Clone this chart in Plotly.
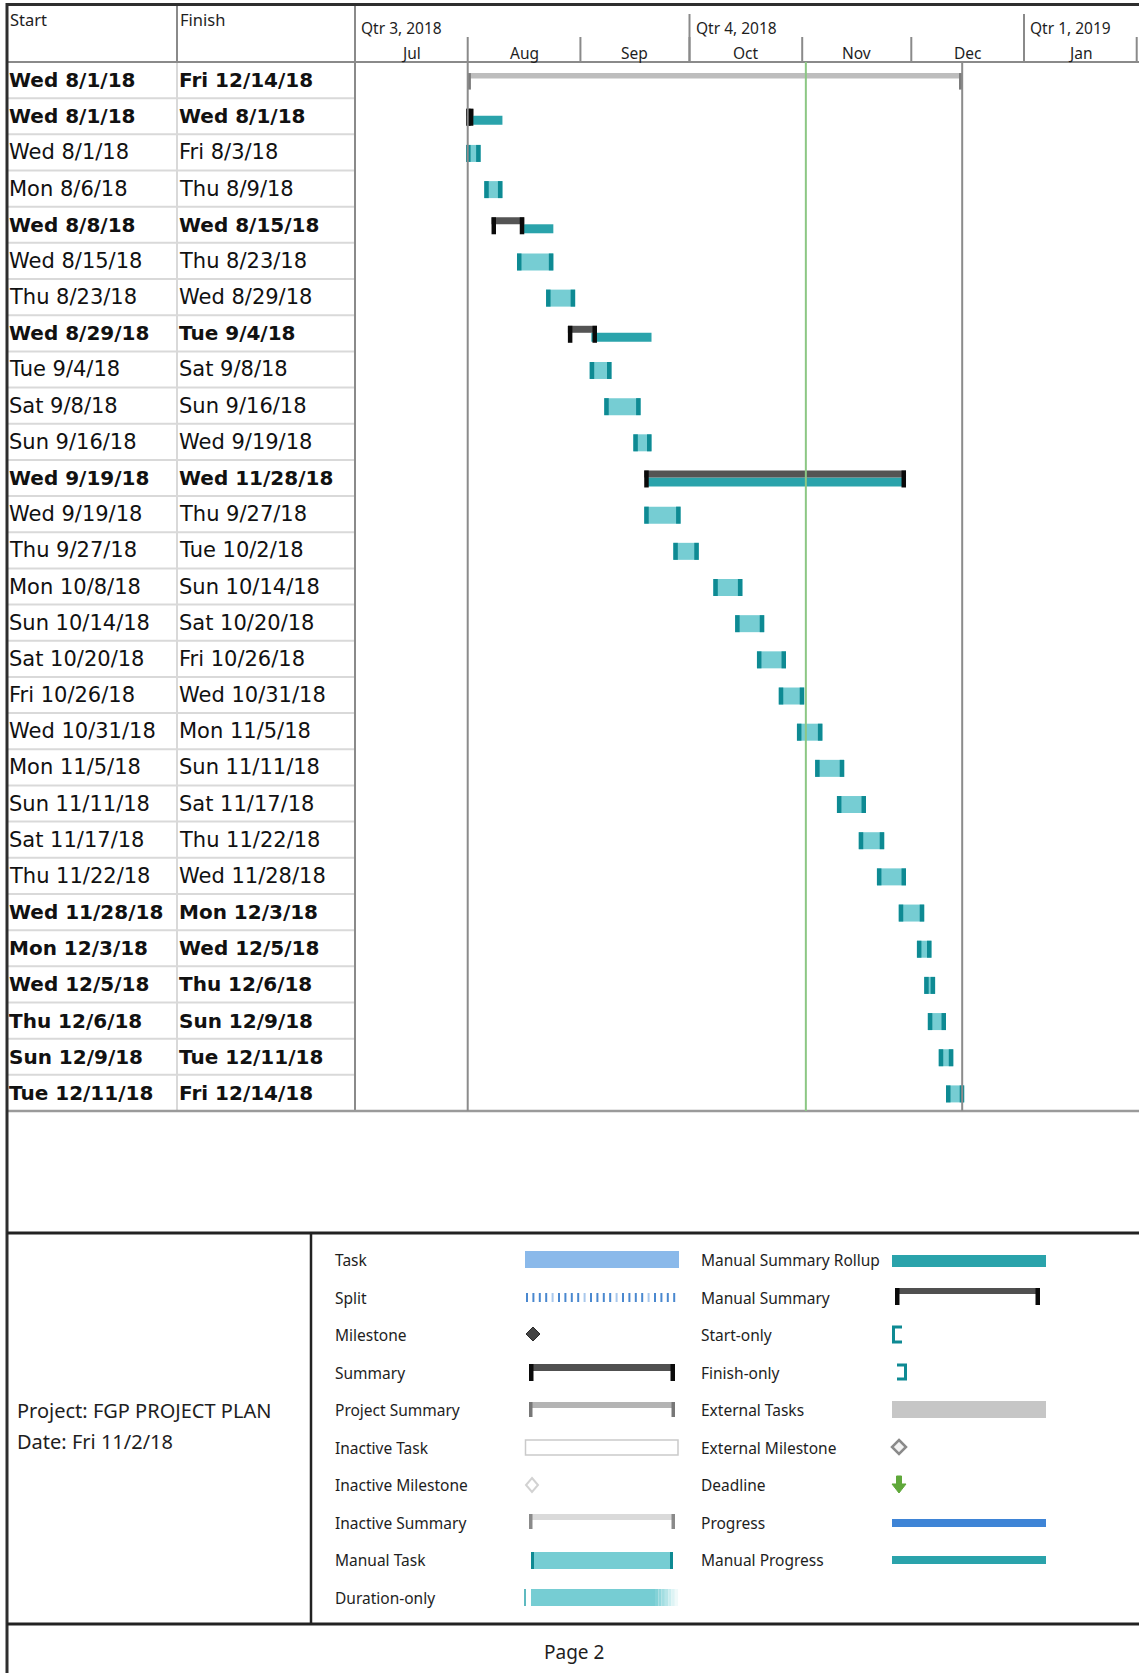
import datetime as dt
import plotly.graph_objects as go

# ---------------------------------------------------------------- data
START = ["Wed 8/1/18", "Wed 8/1/18", "Wed 8/1/18", "Mon 8/6/18", "Wed 8/8/18",
         "Wed 8/15/18", "Thu 8/23/18", "Wed 8/29/18", "Tue 9/4/18", "Sat 9/8/18",
         "Sun 9/16/18", "Wed 9/19/18", "Wed 9/19/18", "Thu 9/27/18", "Mon 10/8/18",
         "Sun 10/14/18", "Sat 10/20/18", "Fri 10/26/18", "Wed 10/31/18", "Mon 11/5/18",
         "Sun 11/11/18", "Sat 11/17/18", "Thu 11/22/18", "Wed 11/28/18", "Mon 12/3/18",
         "Wed 12/5/18", "Thu 12/6/18", "Sun 12/9/18", "Tue 12/11/18"]
FINISH = ["Fri 12/14/18", "Wed 8/1/18", "Fri 8/3/18", "Thu 8/9/18", "Wed 8/15/18",
          "Thu 8/23/18", "Wed 8/29/18", "Tue 9/4/18", "Sat 9/8/18", "Sun 9/16/18",
          "Wed 9/19/18", "Wed 11/28/18", "Thu 9/27/18", "Tue 10/2/18", "Sun 10/14/18",
          "Sat 10/20/18", "Fri 10/26/18", "Wed 10/31/18", "Mon 11/5/18", "Sun 11/11/18",
          "Sat 11/17/18", "Thu 11/22/18", "Wed 11/28/18", "Mon 12/3/18", "Wed 12/5/18",
          "Thu 12/6/18", "Sun 12/9/18", "Tue 12/11/18", "Fri 12/14/18"]
KIND = (["project", "summary", "manual", "manual", "summary", "manual", "manual",
         "summary", "manual", "manual", "manual", "summary"] + ["manual"] * 17)
BOLD = [1, 1, 0, 0, 1, 0, 0, 1, 0, 0, 0, 1] + [0] * 11 + [1] * 6

# manual summary rollups (row, start, end)
ROLLUP_ROW = [2, 5, 8, 12]
ROLLUP_START = ["2018-08-01", "2018-08-16", "2018-09-04", "2018-09-19"]
ROLLUP_END = ["2018-08-10", "2018-08-24", "2018-09-20", "2018-11-29"]

STATUS_DATE = "2018-11-02"
MONTH_START = ["2018-07-01", "2018-08-01", "2018-09-01", "2018-10-01", "2018-11-01",
               "2018-12-01", "2019-01-01", "2019-02-01"]
MONTH_LABEL = ["Jul", "Aug", "Sep", "Oct", "Nov", "Dec", "Jan"]
QUARTER_START = ["2018-07-01", "2018-10-01", "2019-01-01"]
QUARTER_LABEL = ["Qtr 3, 2018", "Qtr 4, 2018", "Qtr 1, 2019"]

LEGEND_LEFT = ["Task", "Split", "Milestone", "Summary", "Project Summary", "Inactive Task",
               "Inactive Milestone", "Inactive Summary", "Manual Task", "Duration-only"]
LEGEND_RIGHT = ["Manual Summary Rollup", "Manual Summary", "Start-only", "Finish-only",
                "External Tasks", "External Milestone", "Deadline", "Progress",
                "Manual Progress"]
PROJECT_NAME = "Project: FGP PROJECT PLAN"
PROJECT_DATE = "Date: Fri 11/2/18"
PAGE_LABEL = "Page 2"

# ---------------------------------------------------------------- page geometry
W, H = 1139, 1673
TABLE_TOP, TABLE_BOT = 62, 1111
CHART_LEFT = 355
N = len(START)
ROW_PX = (TABLE_BOT - TABLE_TOP) / N
PX_PER_DAY = (1024 - 355) / 184.0
X0_DATE = dt.datetime(2018, 7, 1)
X1_DATE = X0_DATE + dt.timedelta(days=(W - CHART_LEFT) / PX_PER_DAY)

TABLE_FONT = "DejaVu Sans"
UI_FONT = "Noto Sans"
TXT = "#1e1e1e"


def px(x):
    return x / W


def py(y):
    return 1 - y / H


def parse(s):
    return dt.datetime.strptime(s, "%a %m/%d/%y")


def day(d):
    return dt.timedelta(days=d)


rows = list(range(1, N + 1))
t0 = [parse(s) for s in START]
t1 = [parse(s) + day(1) for s in FINISH]

PAD_L, PAD_R = 0.45, 0.55        # bars overhang the day boundaries slightly
CAP = 4.5 / PX_PER_DAY           # end-cap width in days


def bar_layer(rws, x0s, x1s, top, bot, color):
    return go.Bar(
        orientation="h", y=rws,
        base=[a.strftime("%Y-%m-%d %H:%M:%S") for a in x0s],
        x=[(b - a).total_seconds() * 1000 for a, b in zip(x0s, x1s)],
        offset=top / ROW_PX, width=(bot - top) / ROW_PX,
        marker=dict(color=color, line=dict(width=0)),
        hoverinfo="skip", showlegend=False)


fig = go.Figure()

# manual tasks
mt = [i for i in range(N) if KIND[i] == "manual"]
m_r = [rows[i] for i in mt]
m_a = [t0[i] - day(PAD_L) for i in mt]
m_b = [t1[i] + day(PAD_R) for i in mt]
fig.add_trace(bar_layer(m_r, m_a, m_b, -7.5, 9.5, "#76CDD3"))
fig.add_trace(bar_layer(m_r + m_r, m_a + [b - day(CAP) for b in m_b],
                        [a + day(CAP) for a in m_a] + m_b, -7.5, 9.5, "#0E8A93"))

# rollups under the manual summaries
r_a = [dt.datetime.fromisoformat(s) for s in ROLLUP_START]
r_b = [dt.datetime.fromisoformat(s) + day(PAD_R) for s in ROLLUP_END]
fig.add_trace(bar_layer(ROLLUP_ROW, r_a, r_b, -0.5, 8.5, "#2AA3AB"))

# manual summaries
sm = [i for i in range(N) if KIND[i] == "summary"]
s_r = [rows[i] for i in sm]
s_a = [t0[i] - day(PAD_L) for i in sm]
s_b = [t1[i] + day(PAD_R) for i in sm]
fig.add_trace(bar_layer(s_r, s_a, s_b, -7.5, -0.5, "#545454"))
fig.add_trace(bar_layer(s_r + s_r, s_a + [b - day(CAP) for b in s_b],
                        [a + day(CAP) for a in s_a] + s_b, -7.5, 9.5, "#0A0A0A"))

# project summary
pj = [i for i in range(N) if KIND[i] == "project"]
p_r = [rows[i] for i in pj]
p_a = [t0[i] for i in pj]
p_b = [t1[i] for i in pj]
pcap = 3.2 / PX_PER_DAY
fig.add_trace(bar_layer(p_r, p_a, p_b, -7.0, -1.5, "#BDBDBD"))
fig.add_trace(bar_layer(p_r + p_r, p_a + [b - day(pcap) for b in p_b],
                        [a + day(pcap) for a in p_a] + p_b, -7.0, 9.5, "#7C7C7C"))

shapes = []
ann = []


def line(x0, y0, x1, y1, color, w, xref="paper", yref="paper", layer="above"):
    shapes.append(dict(type="line", x0=x0, y0=y0, x1=x1, y1=y1, xref=xref, yref=yref,
                       line=dict(color=color, width=w), layer=layer))


def rect(x0, y0, x1, y1, fill, lc=None, lw=0):
    shapes.append(dict(type="rect", x0=px(x0), y0=py(y0), x1=px(x1), y1=py(y1),
                       xref="paper", yref="paper", fillcolor=fill,
                       line=dict(color=lc or fill, width=lw), layer="above"))


def path(pts, fill=None, lc=None, lw=0, closed=True):
    d = "M " + " L ".join(f"{px(x):.6f},{py(y):.6f}" for x, y in pts)
    if closed:
        d += " Z"
    shapes.append(dict(type="path", path=d, xref="paper", yref="paper",
                       fillcolor=fill if fill else "rgba(0,0,0,0)",
                       line=dict(color=lc or "rgba(0,0,0,0)", width=lw), layer="above"))


def text(x, y, s, size, family=UI_FONT, color=TXT, xanchor="left", xref="paper",
         yref="paper", xshift=0):
    ann.append(dict(x=x, y=y, xref=xref, yref=yref, text=s, showarrow=False,
                    xanchor=xanchor, yanchor="middle", xshift=xshift,
                    font=dict(family=family, size=size, color=color)))


# ---------------------------------------------------------------- table grid
for k in range(1, N):
    line(px(7), k + 0.5, px(CHART_LEFT), k + 0.5, "#D9D9D9", 2, yref="y", layer="below")
line(px(177), py(TABLE_TOP), px(177), py(TABLE_BOT), "#D9D9D9", 2)
line(px(177), py(4), px(177), py(TABLE_TOP), "#8A8A8A", 2)
line(px(CHART_LEFT), py(4), px(CHART_LEFT), py(TABLE_BOT), "#8A8A8A", 2)
line(px(7), py(TABLE_TOP), px(W), py(TABLE_TOP), "#8A8A8A", 2)
line(px(7), py(TABLE_BOT), px(W), py(TABLE_BOT), "#9A9A9A", 2.5)

# timescale: quarter dividers and month ticks
for q in QUARTER_START[1:]:
    line(q, py(14), q, py(TABLE_TOP), "#8A8A8A", 2, xref="x")
for m in MONTH_START[1:]:
    line(m, py(37), m, py(TABLE_TOP), "#8A8A8A", 2, xref="x")
for q, lab in zip(QUARTER_START, QUARTER_LABEL):
    text(q, py(28), lab, 15.5, xref="x", xshift=4)
for a, b, lab in zip(MONTH_START[:-1], MONTH_START[1:], MONTH_LABEL):
    da, db = dt.datetime.fromisoformat(a), dt.datetime.fromisoformat(b)
    mid = da + (db - da) / 2
    text(mid.strftime("%Y-%m-%d %H:%M"), py(53), lab, 15.5, xref="x", xanchor="center")

# project start / finish and status date lines
proj_start = t0[pj[0]].strftime("%Y-%m-%d")
proj_end = t1[pj[0]].strftime("%Y-%m-%d")
for d in (proj_start, proj_end):
    line(d, py(TABLE_TOP), d, py(TABLE_BOT), "#8C8C8C", 2, xref="x")
line(STATUS_DATE, py(TABLE_TOP), STATUS_DATE, py(TABLE_BOT), "#8CC784", 2, xref="x")

# header labels
text(px(8), py(20), "Start", 16.5)
text(px(178), py(20), "Finish", 16.5)

# table text
for r, s, f, b in zip(rows, START, FINISH, BOLD):
    s_txt = f"<b>{s}</b>" if b else s
    f_txt = f"<b>{f}</b>" if b else f
    size = 20 if b else 21
    text(px(7), r, s_txt, size, family=TABLE_FONT, color="#111111", yref="y")
    text(px(177), r, f_txt, size, family=TABLE_FONT, color="#111111", yref="y")

# ---------------------------------------------------------------- frame
line(px(7), py(4.5), px(W), py(4.5), "#2E2E2E", 3)
line(px(7), py(3), px(7), py(H), "#2E2E2E", 3)
line(px(7), py(1233), px(W), py(1233), "#222222", 3)
line(px(7), py(1624), px(W), py(1624), "#222222", 3)
line(px(311), py(1233), px(311), py(1624), "#222222", 2.5)

# ---------------------------------------------------------------- legend
LY = [1260, 1297.5, 1335, 1372.5, 1410, 1447.5, 1485, 1522.5, 1560, 1597.5]
for lab, y in zip(LEGEND_LEFT, LY):
    text(px(333), py(y), lab, 15.5)
for lab, y in zip(LEGEND_RIGHT, LY):
    text(px(699), py(y), lab, 15.5)

# Task
rect(525, 1251, 679, 1268, "#8AB9EA")
# Split
xx = 527.0
k = 0
while xx < 678:
    col = "#A9C8EC" if k % 5 == 4 else "#4A88CF"
    line(px(xx), py(1293), px(xx), py(1302), col, 2)
    xx += 6.4
    k += 1
# Milestone
path([(533, 1327), (540, 1334), (533, 1341), (526, 1334)], fill="#454545", lc="#2A2A2A", lw=1)
# Summary
rect(531, 1364, 673, 1371, "#505050")
rect(529, 1364, 533.5, 1381, "#0A0A0A")
rect(670.5, 1364, 675, 1381, "#0A0A0A")
# Project Summary
rect(531, 1402, 673, 1408, "#B4B4B4")
rect(529, 1402, 532.5, 1417, "#777777")
rect(671.5, 1402, 675, 1417, "#777777")
# Inactive Task
rect(525.5, 1440, 678, 1455, "#FFFFFF", lc="#CACACA", lw=1.5)
# Inactive Milestone
path([(532, 1478), (538, 1485), (532, 1492), (526, 1485)], fill="#FFFFFF", lc="#D2D2D2", lw=2)
# Inactive Summary
rect(531, 1514, 673, 1520, "#DADADA")
rect(529, 1514, 532.5, 1529, "#8A8A8A")
rect(671.5, 1514, 675, 1529, "#8A8A8A")
# Manual Task
rect(531, 1552, 673, 1569, "#76CDD3")
rect(531, 1552, 534, 1569, "#0E8A93")
rect(670, 1552, 673, 1569, "#0E8A93")
# Duration-only
line(px(525), py(1589), px(525), py(1606), "#2AA3AB", 1.5)
rect(531, 1589, 655, 1606, "#76CDD3")
fade = ["#83D2D7", "#92D7DC", "#A3DEE2", "#B6E5E8", "#CAEDEF", "#DEF4F5", "#F0FAFA"]
for j, c in enumerate(fade):
    rect(655 + j * 3.3, 1589, 655 + (j + 1) * 3.3, 1606, c)

# Manual Summary Rollup
rect(892, 1255, 1046, 1267, "#2AA3AB")
# Manual Summary
rect(897, 1288, 1038, 1294, "#505050")
rect(895, 1288, 899.5, 1305, "#0A0A0A")
rect(1035.5, 1288, 1040, 1305, "#0A0A0A")
# Start-only
path([(902, 1327), (893.5, 1327), (893.5, 1342), (902, 1342)], lc="#0E8A93", lw=3, closed=False)
# Finish-only
path([(897, 1365), (905.5, 1365), (905.5, 1379), (897, 1379)], lc="#0E8A93", lw=3, closed=False)
# External Tasks
rect(892, 1401, 1046, 1418, "#C6C6C6")
# External Milestone
path([(899, 1440), (906, 1447), (899, 1454), (892, 1447)], fill="#F2F2F2", lc="#8A8A8A", lw=2.5)
# Deadline
path([(896.5, 1476), (901.5, 1476), (901.5, 1484), (906, 1484), (899, 1493),
      (892, 1484), (896.5, 1484)], fill="#5FA83A", lc="#5FA83A", lw=1)
# Progress
rect(892, 1519, 1046, 1527, "#3E84D6")
# Manual Progress
rect(892, 1556, 1046, 1564, "#2AA3AB")

# project info and page number
text(px(15), py(1410), PROJECT_NAME, 20)
text(px(15), py(1441), PROJECT_DATE, 20)
text(px(574), py(1652), PAGE_LABEL, 19, xanchor="center")

fig.update_layout(
    width=W, height=H, autosize=False,
    margin=dict(l=0, r=0, t=0, b=0, pad=0),
    paper_bgcolor="white", plot_bgcolor="white",
    barmode="overlay", showlegend=False,
    xaxis=dict(type="date", domain=[CHART_LEFT / W, 1.0],
               range=[X0_DATE.strftime("%Y-%m-%d"), X1_DATE.strftime("%Y-%m-%d %H:%M:%S")],
               visible=False, fixedrange=True),
    yaxis=dict(type="linear", domain=[1 - TABLE_BOT / H, 1 - TABLE_TOP / H],
               range=[N + 0.5, 0.5], visible=False, fixedrange=True),
    shapes=shapes, annotations=ann,
)

fig.write_html("out.html", config={"displayModeBar": False, "staticPlot": True})
